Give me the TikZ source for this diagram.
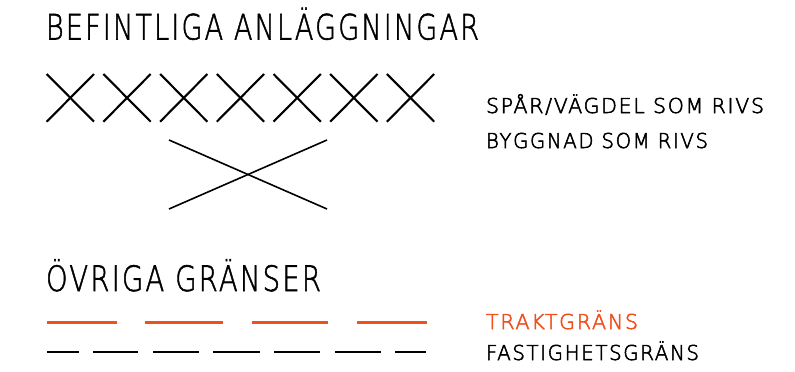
\documentclass[tikz,border=0pt]{standalone}
\usepackage{fontspec}
\setmainfont{DejaVu Sans ExtraLight}
\newfontfamily\bigfont[FakeBold=1.6,LetterSpace=8]{DejaVu Sans ExtraLight}
\newfontfamily\smallfont[FakeBold=2.6,LetterSpace=8]{DejaVu Sans ExtraLight}
\usepackage{graphicx}
\definecolor{trakt}{RGB}{240,80,30}
\newcommand\fitto[2]{\resizebox{#1pt}{\height}{#2}}
\tikzset{
  lbl/.style={anchor=base west, inner sep=0pt, outer sep=0pt},
  bigtxt/.style={font=\bigfont\fontsize{35}{40}\selectfont},
  smalltxt/.style={font=\smallfont\fontsize{20.5}{24}\selectfont},
  xline/.style={line width=2.1pt},
  bigx/.style={line width=1.6pt},
  traktline/.style={line width=3pt, draw=trakt},
  fastline/.style={line width=2.4pt, draw=black}
}
\begin{document}
\begin{tikzpicture}[x=1pt,y=-1pt]
\useasboundingbox (0,0) rectangle (795,372);
% headings
\node[lbl,bigtxt] (title1) at (46,39.5) {\fitto{433}{BEFINTLIGA ANLÄGGNINGAR}};
\node[lbl,bigtxt] (title2) at (46,291) {\fitto{275}{ÖVRIGA GRÄNSER}};
% labels
\node[lbl,smalltxt] (spar) at (486,113) {\fitto{278}{SPÅR/VÄGDEL SOM RIVS}};
\node[lbl,smalltxt] (bygg) at (486,148) {\fitto{222}{BYGGNAD SOM RIVS}};
\node[lbl,smalltxt,text=trakt] (trakt) at (486,329) {\fitto{152}{TRAKTGRÄNS}};
\node[lbl,smalltxt] (fast) at (486,360) {\fitto{213}{FASTIGHETSGRÄNS}};
% row of crosses
\foreach \i in {0,...,6} {
  \draw[xline] ({46.7+56.7*\i},74) -- ++(47.3,47.7);
  \draw[xline] ({46.7+56.7*\i},121.7) -- ++(47.3,-47.7);
}
% building cross
\draw[bigx] (169,140) -- (327,209);
\draw[bigx] (169,209) -- (327,140);
% traktgräns
\foreach \a/\b in {47/117,145/223,252/328,357/427}
  \draw[traktline] (\a,322) -- (\b,322);
% fastighetsgräns
\foreach \a/\b in {47/79,93/138,153/199,213/260,274/320,335/381,395/426}
  \draw[fastline] (\a,352) -- (\b,352);
\end{tikzpicture}
\end{document}
